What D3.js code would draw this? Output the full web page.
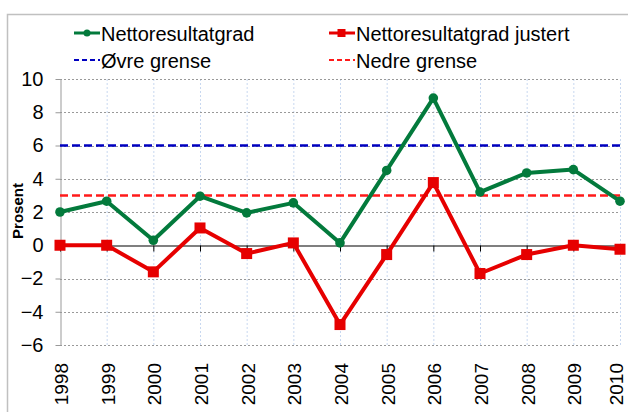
<!DOCTYPE html>
<html><head><meta charset="utf-8">
<script src="https://cdn.jsdelivr.net/npm/d3@7"></script>
<style>
body{margin:0;background:#fff;}
svg{display:block;font-family:Arial,"Liberation Sans",sans-serif;}
</style></head>
<body><svg id="c" width="628" height="412"></svg>
<script>
const years = ["1998","1999","2000","2001","2002","2003","2004","2005","2006","2007","2008","2009","2010"];
const netto = [2.0,2.65,0.3,2.95,1.95,2.55,0.14,4.5,8.85,3.2,4.35,4.55,2.65];
const nettoJustert = [0.0,0.0,-1.6,1.04,-0.5,0.14,-4.77,-0.56,3.77,-1.7,-0.56,0.0,-0.24];
const ovreGrense = 6;
const nedreGrense = 3;
const yTicks = [-6,-4,-2,0,2,4,6,8,10];
const seriesNames = ["Nettoresultatgrad","Nettoresultatgrad justert","Øvre grense","Nedre grense"];

const svg = d3.select("#c");
const green = "#037a3c", red = "#e60000", blue = "#0000c0", redDash = "#ff1a1a";

// frame
svg.append("path").attr("d","M7.5,412 V14.5 H628").attr("fill","none").attr("stroke","#c0c0c0").attr("stroke-width",1.5);

const x = d3.scalePoint().domain(years).range([60,620]);
const y = d3.scaleLinear().domain([-6,10]).range([345,79]);

// vertical grid
svg.append("g").selectAll("line").data(years.slice(1)).join("line")
  .attr("x1",d=>x(d)+0.5).attr("x2",d=>x(d)+0.5).attr("y1",y(10)).attr("y2",y(-6))
  .attr("stroke","#c8d8f0").attr("stroke-width",1).attr("stroke-dasharray","2,2");
// horizontal grid
svg.append("g").selectAll("line").data(yTicks.filter(v=>v!==0)).join("line")
  .attr("x1",60).attr("x2",620).attr("y1",d=>Math.round(y(d))+0.5).attr("y2",d=>Math.round(y(d))+0.5)
  .attr("stroke","#999").attr("stroke-width",1).attr("stroke-dasharray","2,2");

// y axis
const ya = svg.append("g").attr("transform","translate(60.5,0)")
  .call(d3.axisLeft(y).tickValues(yTicks).tickSize(5).tickPadding(12).tickSizeOuter(0));
ya.select(".domain").attr("stroke","#999");
ya.selectAll(".tick line").attr("stroke","#999");
ya.selectAll("text").attr("font-size","20px").attr("fill","#000").attr("font-family","Arial, 'Liberation Sans', sans-serif");

// zero axis with ticks
const xa = svg.append("g").attr("transform",`translate(0,${Math.round(y(0))+0.5})`)
  .call(d3.axisBottom(x).tickSize(6).tickFormat("").tickSizeOuter(0));
xa.select(".domain").attr("stroke","#000").attr("stroke-width",1.2);
xa.selectAll(".tick line").attr("stroke","#000");

// year labels
svg.append("g").selectAll("text").data(years).join("text")
  .attr("transform",d=>`translate(${Math.min(x(d)+1,616)},363) rotate(-90)`)
  .attr("text-anchor","end").attr("dy","0.36em")
  .attr("font-size","19px").attr("fill","#000").text(d=>d);

// y title
svg.append("text").attr("transform","translate(18,211) rotate(-90)")
  .attr("text-anchor","middle").attr("dy","0.35em")
  .attr("font-size","15px").attr("font-weight","bold").text("Prosent");

// reference lines
svg.append("line").attr("x1",60).attr("x2",620).attr("y1",y(ovreGrense)).attr("y2",y(ovreGrense))
  .attr("stroke",blue).attr("stroke-width",2.5).attr("stroke-dasharray","8,4");
svg.append("line").attr("x1",60).attr("x2",620).attr("y1",y(nedreGrense)).attr("y2",y(nedreGrense))
  .attr("stroke",redDash).attr("stroke-width",2.5).attr("stroke-dasharray","8,4");

const line = d3.line().x((d,i)=>x(years[i])).y(d=>y(d));
// red series
svg.append("path").datum(nettoJustert).attr("d",line).attr("fill","none")
  .attr("stroke",red).attr("stroke-width",4).attr("stroke-linejoin","round");
svg.append("g").selectAll("rect").data(nettoJustert).join("rect")
  .attr("x",(d,i)=>x(years[i])-5.5).attr("y",d=>y(d)-5.5).attr("width",11).attr("height",11).attr("fill",red);
// green series
svg.append("path").datum(netto).attr("d",line).attr("fill","none")
  .attr("stroke",green).attr("stroke-width",4).attr("stroke-linejoin","round");
svg.append("g").selectAll("circle").data(netto).join("circle")
  .attr("cx",(d,i)=>x(years[i])).attr("cy",d=>y(d)).attr("r",4.8).attr("fill",green);

// legend
const lg = svg.append("g");
function legendLine(x0,yy,color,dash){
  lg.append("line").attr("x1",x0).attr("x2",x0+26).attr("y1",yy).attr("y2",yy)
    .attr("stroke",color).attr("stroke-width",dash?2:3).attr("stroke-dasharray",dash?"5,3":null);
}
legendLine(74,33,green,false);
lg.append("circle").attr("cx",87).attr("cy",33).attr("r",3.5).attr("fill",green);
lg.append("text").attr("x",101).attr("y",40.5).attr("font-size","20px").text(seriesNames[0]);
legendLine(329,33,red,false);
lg.append("rect").attr("x",337.5).attr("y",29).attr("width",8).attr("height",8).attr("fill",red);
lg.append("text").attr("x",356).attr("y",40.5).attr("font-size","20px").text(seriesNames[1]);
legendLine(74,60,blue,true);
lg.append("text").attr("x",101).attr("y",67.5).attr("font-size","20px").text(seriesNames[2]);
legendLine(329,60,redDash,true);
lg.append("text").attr("x",356).attr("y",67.5).attr("font-size","20px").text(seriesNames[3]);
</script></body></html>
